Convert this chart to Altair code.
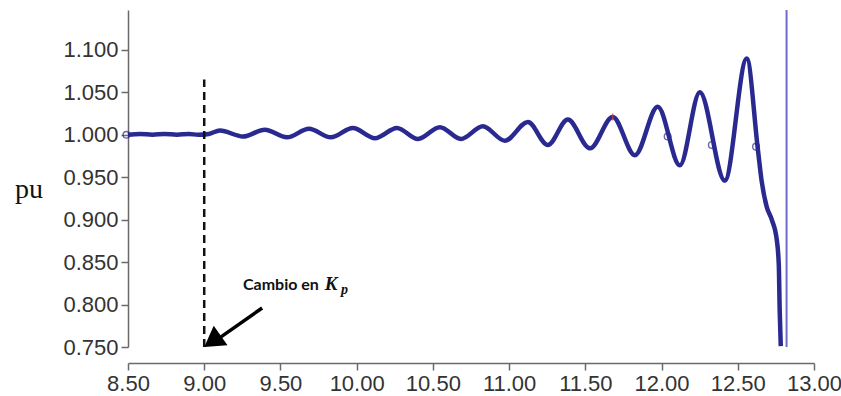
import altair as alt
import pandas as pd

# Per-unit signal (time in s, value in pu): flat, then a growing oscillation and collapse
t_vals = [8.50, 8.58, 8.66, 8.74, 8.82, 8.90, 8.96, 9.03,
          9.103, 9.254, 9.398, 9.543, 9.687, 9.831, 9.975, 10.120,
          10.264, 10.402, 10.546, 10.684, 10.828, 10.972, 11.123, 11.254,
          11.385, 11.530, 11.680, 11.825, 11.975, 12.120, 12.251, 12.415,
          12.559, 12.631, 12.657, 12.690, 12.723, 12.756, 12.769, 12.775, 12.782]
pu_vals = [1.000, 1.001, 1.000, 1.001, 1.000, 1.001, 1.000, 1.001,
           1.005, 0.998, 1.006, 0.997, 1.007, 0.997, 1.008, 0.996,
           1.008, 0.995, 1.009, 0.995, 1.010, 0.993, 1.015, 0.988,
           1.018, 0.984, 1.021, 0.976, 1.033, 0.964, 1.050, 0.946,
           1.090, 0.984, 0.945, 0.915, 0.900, 0.876, 0.847, 0.793, 0.751]

# Vertical trace after the collapse
jump_t = [12.82, 12.82]
jump_pu = [0.75, 1.147]

# Open sample markers along the trace
marker_t = [8.49, 12.04, 12.33, 12.62]
marker_pu = [1.000, 0.998, 0.988, 0.986]

# Red marker at one crest
red_t = [11.68]
red_pu = [1.021]

# Step time of the gain change
step_t = 9.00
step_top = 1.065

y_ticks = [0.75, 0.80, 0.85, 0.90, 0.95, 1.00, 1.05, 1.10]
x_ticks = [8.5, 9.0, 9.5, 10.0, 10.5, 11.0, 11.5, 12.0, 12.5, 13.0]

X_DOM = [8.5, 13.0]
Y_DOM = [0.75, 1.147]

axis_color = "#6a6a6a"
label_color = "#333333"

x_enc = alt.X("t:Q", scale=alt.Scale(domain=X_DOM, nice=False, zero=False),
              axis=alt.Axis(values=x_ticks, format=".2f", title=None, grid=False,
                            offset=16, tickSize=7, tickColor=axis_color, tickWidth=1.5,
                            domainColor=axis_color, domainWidth=1.5,
                            labelFont="Liberation Sans", labelFontSize=22,
                            labelColor=label_color, labelPadding=3,
                            labelOverlap=False, labelFlush=False))
y_enc = alt.Y("pu:Q", scale=alt.Scale(domain=Y_DOM, nice=False, zero=False),
              axis=alt.Axis(values=y_ticks, format=".3f", title=None, grid=False,
                            tickSize=7, tickColor=axis_color, tickWidth=1.5,
                            domainColor=axis_color, domainWidth=1.5,
                            labelFont="Liberation Sans", labelFontSize=22,
                            labelColor=label_color, labelPadding=3,
                            labelOverlap=False))

xs = alt.Scale(domain=X_DOM, nice=False, zero=False)
ys = alt.Scale(domain=Y_DOM, nice=False, zero=False)

main_df = pd.DataFrame({"t": t_vals, "pu": pu_vals})
trace = alt.Chart(main_df).mark_line(
    color="#1e1e8a", strokeWidth=4.5, interpolate="monotone", opacity=0.95
).encode(x=x_enc, y=y_enc)

jump_df = pd.DataFrame({"t": jump_t, "pu": jump_pu})
jump = alt.Chart(jump_df).mark_line(color="#6d6dc9", strokeWidth=2).encode(
    x=alt.X("t:Q", scale=xs), y=alt.Y("pu:Q", scale=ys))

mk_df = pd.DataFrame({"t": marker_t, "pu": marker_pu})
markers = alt.Chart(mk_df).mark_point(
    shape="circle", size=45, filled=False, color="#2a2a90", strokeWidth=1.4
).encode(x=alt.X("t:Q", scale=xs), y=alt.Y("pu:Q", scale=ys))

red_df = pd.DataFrame({"t": red_t, "pu": red_pu})
red = alt.Chart(red_df).mark_tick(color="#e04040", thickness=1.5, size=7,
                                  orient="vertical").encode(
    x=alt.X("t:Q", scale=xs), y=alt.Y("pu:Q", scale=ys))

step_df = pd.DataFrame({"t": [step_t], "pu0": [0.75], "pu1": [step_top]})
step = alt.Chart(step_df).mark_rule(color="#111111", strokeWidth=2.5,
                                    strokeDash=[8, 5]).encode(
    x=alt.X("t:Q", scale=xs), y=alt.Y("pu0:Q", scale=ys), y2="pu1:Q")

# Annotation arrow pointing at the step
shaft_df = pd.DataFrame({"t": [9.38], "pu": [0.796], "t2": [9.11], "pu2": [0.762]})
shaft = alt.Chart(shaft_df).mark_rule(color="#000000", strokeWidth=3.5).encode(
    x=alt.X("t:Q", scale=xs), y=alt.Y("pu:Q", scale=ys), x2="t2:Q", y2="pu2:Q")

head_df = pd.DataFrame({"t": [9.00], "pu": [0.750]})
head = alt.Chart(head_df).mark_point(
    shape="M0,0L-0.6,1L0.6,1Z", size=1600, filled=True, color="#000000",
    opacity=1, angle=235
).encode(x=alt.X("t:Q", scale=xs), y=alt.Y("pu:Q", scale=ys))

label_df = pd.DataFrame({"t": [9.254], "pu": [0.817], "txt": ["Cambio en"]})
label = alt.Chart(label_df).mark_text(
    align="left", baseline="alphabetic", font="Lato", fontWeight="bold",
    fontSize=16, color="#111111"
).encode(x=alt.X("t:Q", scale=xs), y=alt.Y("pu:Q", scale=ys), text="txt:N")

k_df = pd.DataFrame({"t": [9.79], "pu": [0.817], "txt": ["K"]})
k_lbl = alt.Chart(k_df).mark_text(
    align="left", baseline="alphabetic", font="Liberation Serif", fontStyle="italic",
    fontWeight="bold", fontSize=19, color="#111111"
).encode(x=alt.X("t:Q", scale=xs), y=alt.Y("pu:Q", scale=ys), text="txt:N")

p_df = pd.DataFrame({"t": [9.897], "pu": [0.812], "txt": ["p"]})
p_lbl = alt.Chart(p_df).mark_text(
    align="left", baseline="alphabetic", font="Liberation Serif", fontStyle="italic",
    fontWeight="bold", fontSize=14, color="#111111"
).encode(x=alt.X("t:Q", scale=xs), y=alt.Y("pu:Q", scale=ys), text="txt:N")

pu_title = alt.Chart(pd.DataFrame({"txt": ["pu"]})).mark_text(
    align="left", baseline="alphabetic", font="Liberation Serif", fontSize=28,
    color="#111111"
).encode(x=alt.value(-113), y=alt.value(188), text="txt:N")

chart = alt.layer(
    trace, jump, markers, red, step, shaft, head, label, k_lbl, p_lbl, pu_title
).properties(
    width=686, height=337,
    autosize=alt.AutoSizeParams(type="none"),
    padding={"left": 128, "top": 10, "right": 27, "bottom": 49},
    background="#ffffff",
).configure_view(stroke=None)

chart.save("out.html", embed_options={"renderer": "svg", "actions": False})
